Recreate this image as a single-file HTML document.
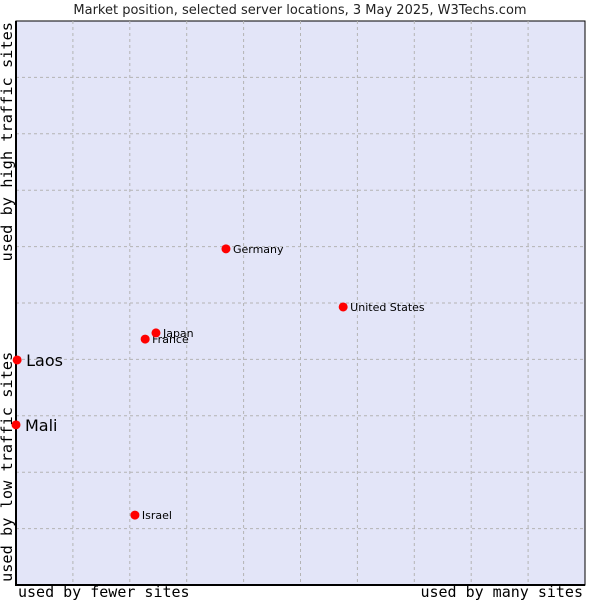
<!DOCTYPE html>
<html><head><meta charset="utf-8"><style>
body{margin:0;background:#fff;}
svg{display:block;font-family:"DejaVu Sans","Liberation Sans",sans-serif;}
</style></head><body>
<svg id="chart" width="600" height="600">
<text x="300" y="14" text-anchor="middle" font-size="13" fill="#222">Market position, selected server locations, 3 May 2025, W3Techs.com</text>
<rect x="16" y="21" width="569" height="564" fill="#e3e5f8" stroke="#000" stroke-width="1"/>
<g id="grid"></g>
<line x1="16" y1="21" x2="16" y2="586" stroke="#000" stroke-width="2"/>
<line x1="15" y1="585" x2="585" y2="585" stroke="#000" stroke-width="2"/>
<g id="points"></g>
<text x="18" y="597" font-family="'DejaVu Sans Mono','Liberation Mono',monospace" font-size="15" fill="#000">used by fewer sites</text>
<text x="583" y="597" text-anchor="end" font-family="'DejaVu Sans Mono','Liberation Mono',monospace" font-size="15" fill="#000">used by many sites</text>
<text transform="translate(12,582) rotate(-90)" font-family="'DejaVu Sans Mono','Liberation Mono',monospace" font-size="15.3" fill="#000">used by low traffic sites</text>
<text transform="translate(12,22) rotate(-90)" text-anchor="end" font-family="'DejaVu Sans Mono','Liberation Mono',monospace" font-size="15.3" fill="#000">used by high traffic sites</text>
</svg>
<script>
const countries = ["Laos","Mali","Israel","France","Japan","Germany","United States"];
const xValues = [0.2, 0, 20.9, 22.7, 24.6, 36.9, 57.5];
const yValues = [39.9, 28.4, 12.4, 43.6, 44.7, 59.6, 49.3];
const highlighted = ["Laos","Mali"];
const ns="http://www.w3.org/2000/svg";
const L=16,R=585,T=21,B=585;
function xs(v){return L+v/100*(R-L);}
function ys(v){return B-v/100*(B-T);}
const grid=document.getElementById('grid');
for(let i=1;i<10;i++){
  const gx=document.createElementNS(ns,'line');
  gx.setAttribute('x1',xs(i*10));gx.setAttribute('x2',xs(i*10));gx.setAttribute('y1',T);gx.setAttribute('y2',B);
  gx.setAttribute('stroke','#b4b4b4');gx.setAttribute('stroke-dasharray','3,3');
  
  
  grid.appendChild(gx);
  const gy=document.createElementNS(ns,'line');
  gy.setAttribute('y1',ys(i*10));gy.setAttribute('y2',ys(i*10));gy.setAttribute('x1',L);gy.setAttribute('x2',R);
  gy.setAttribute('stroke','#b4b4b4');gy.setAttribute('stroke-dasharray','3,3');
  
  
  grid.appendChild(gy);
}
const pts=document.getElementById('points');
countries.forEach((c,i)=>{
  const cx=xs(xValues[i]),cy=ys(yValues[i]);
  const d=document.createElementNS(ns,'circle');
  d.setAttribute('cx',cx);d.setAttribute('cy',cy);d.setAttribute('r',4.5);d.setAttribute('fill','#f00');
  
  
  pts.appendChild(d);
  const big=highlighted.includes(c);
  const t=document.createElementNS(ns,'text');
  t.setAttribute('x',cx+(big?9:7));t.setAttribute('y',cy+(big?6:4));
  t.setAttribute('font-size',big?16:11);t.setAttribute('fill','#000');
  t.textContent=c;
  
  
  pts.appendChild(t);
});
</script>
</body></html>
